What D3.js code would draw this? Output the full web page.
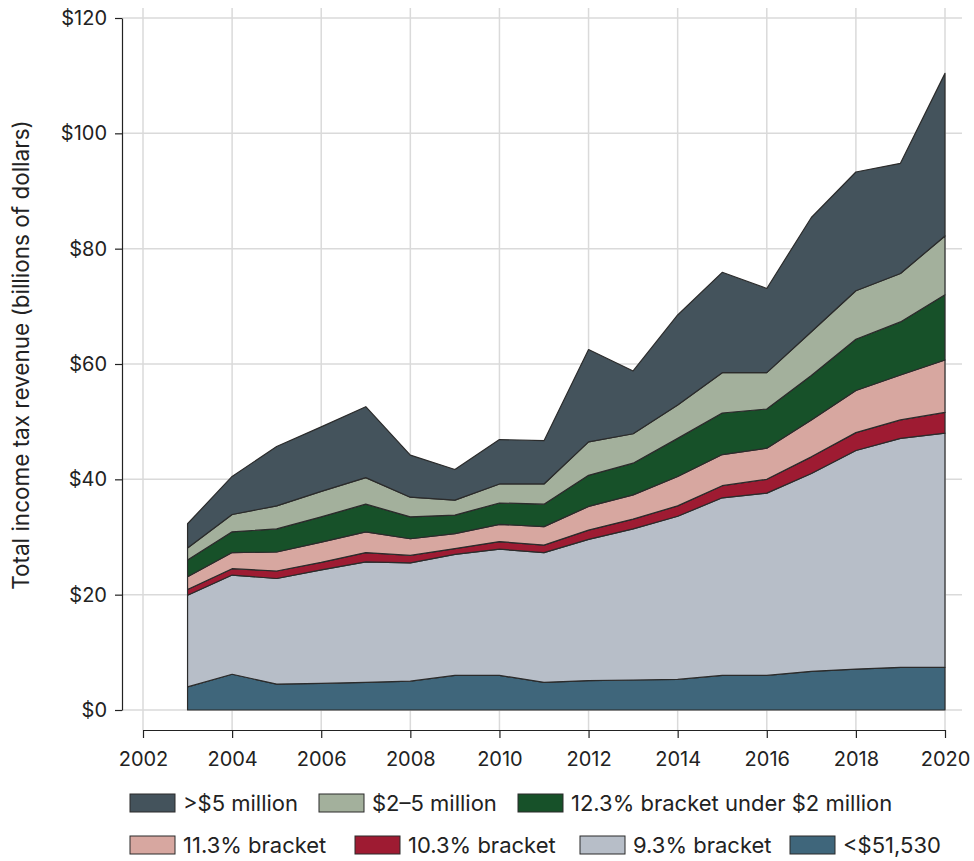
<!DOCTYPE html>
<html>
<head>
<meta charset="utf-8">
<script src="https://cdn.jsdelivr.net/npm/d3@7"></script>
<style>
  body { margin: 0; background: #fff; }
  #chart text { font-family: Inter, "Liberation Sans", Arial, sans-serif; fill: #222; }
</style>
</head>
<body>
<div id="chart"></div>
<script>
// data (billions of dollars)
var years = [2003,2004,2005,2006,2007,2008,2009,2010,2011,2012,2013,2014,2015,2016,2017,2018,2019,2020];

var under51k   = [4.0,6.2,4.5,4.6,4.8,5.0,6.0,6.0,4.8,5.1,5.2,5.3,6.0,6.0,6.7,7.1,7.4,7.4];
var bracket93  = [15.9,17.2,18.3,19.7,20.9,20.5,21.0,21.9,22.5,24.5,26.2,28.3,30.8,31.6,34.3,37.9,39.7,40.6];
var bracket103 = [1.0,1.1,1.3,1.3,1.6,1.3,1.0,1.3,1.3,1.6,1.7,1.8,2.1,2.4,2.9,3.1,3.2,3.6];
var bracket113 = [2.2,2.8,3.3,3.5,3.6,2.9,2.6,3.0,3.2,4.1,4.2,5.1,5.4,5.4,6.4,7.3,7.8,9.1];
var bracket123 = [2.9,3.6,4.0,4.4,4.8,3.8,3.2,3.7,3.9,5.4,5.5,6.6,7.2,6.8,7.7,8.9,9.2,11.3];
var mil2to5    = [2.1,3.0,4.0,4.4,4.6,3.4,2.6,3.3,3.5,5.8,5.1,5.8,7.0,6.3,7.6,8.4,8.4,10.2];
var over5mil   = [4.2,6.6,10.3,11.2,12.3,7.3,5.3,7.7,7.5,16.0,10.9,15.6,17.4,14.6,19.8,20.6,19.1,28.2];

var keys   = ["<$51,530","9.3% bracket","10.3% bracket","11.3% bracket","12.3% bracket under $2 million","$2\u20135 million",">$5 million"];
var series = [under51k, bracket93, bracket103, bracket113, bracket123, mil2to5, over5mil];
var colors = ["#3f667b","#b7bec8","#9e1b32","#d7a7a0","#175129","#a3b09c","#44535c"];

var xTicks = [2002,2004,2006,2008,2010,2012,2014,2016,2018,2020];
var yTicks = [0,20,40,60,80,100,120];

// legend rows (top-to-bottom order as in the picture)
var legendRow1 = [">$5 million","$2\u20135 million","12.3% bracket under $2 million"];
var legendRow2 = ["11.3% bracket","10.3% bracket","9.3% bracket","<$51,530"];

var width = 974, height = 861;

var svg = d3.select("#chart").append("svg")
    .attr("width", width)
    .attr("height", height);

var x = d3.scaleLinear().domain([2002, 2020]).range([143, 945]),
    y = d3.scaleLinear().domain([0, 120]).range([710, 18]),
    z = d3.scaleOrdinal().domain(keys).range(colors);

var data = years.map(function(yr, i) {
  var row = {year: yr};
  keys.forEach(function(k, j) { row[k] = series[j][i]; });
  return row;
});

// grid
svg.append("g")
  .selectAll("line.h")
  .data(yTicks)
  .enter().append("line")
    .attr("x1", 122).attr("x2", 962)
    .attr("y1", function(d) { return y(d); })
    .attr("y2", function(d) { return y(d); })
    .attr("stroke", "#dadada").attr("stroke-width", 1.5);

svg.append("g")
  .selectAll("line.v")
  .data(xTicks)
  .enter().append("line")
    .attr("y1", 8).attr("y2", 730)
    .attr("x1", function(d) { return x(d); })
    .attr("x2", function(d) { return x(d); })
    .attr("stroke", "#dadada").attr("stroke-width", 1.5);

// stacked areas
var stack = d3.stack().keys(keys);
var area = d3.area()
    .x(function(d) { return x(d.data.year); })
    .y0(function(d) { return y(d[0]); })
    .y1(function(d) { return y(d[1]); });

svg.append("g")
  .selectAll("path")
  .data(stack(data))
  .enter().append("path")
    .attr("d", area)
    .attr("fill", function(d) { return z(d.key); })
    .attr("stroke", "#2b2b2b")
    .attr("stroke-width", 1.2)
    .attr("stroke-linejoin", "round");

// axes
svg.append("g")
    .attr("class", "y-axis")
    .attr("transform", "translate(122,0)")
    .call(d3.axisLeft(y).tickValues(yTicks).tickSize(7).tickSizeOuter(0).tickPadding(8)
      .tickFormat(function(d) { return "$" + d; }));

svg.append("g")
    .attr("class", "x-axis")
    .attr("transform", "translate(0,730)")
    .call(d3.axisBottom(x).tickValues(xTicks).tickSize(8).tickSizeOuter(0).tickPadding(14)
      .tickFormat(d3.format("d")));

svg.selectAll(".y-axis text, .x-axis text")
    .style("font-family", "Inter, 'Liberation Sans', Arial, sans-serif")
    .style("font-size", "20px")
    .style("fill", "#222");
svg.selectAll(".domain, .tick line").attr("stroke", "#222").attr("stroke-width", 1.2);

// y title
svg.append("text")
    .attr("transform", "translate(29,355) rotate(-90)")
    .style("text-anchor", "middle")
    .style("font-size", "22.5px")
    .text("Total income tax revenue (billions of dollars)");

// legend
var row1X = [130, 319, 518],
    row2X = [130, 355, 580, 790];

function legendRow(labels, xs, top) {
  var g = svg.append("g").selectAll("g")
    .data(labels)
    .enter().append("g")
      .attr("transform", function(d, i) { return "translate(" + xs[i] + "," + top + ")"; });
  g.append("rect")
      .attr("width", 45).attr("height", 18)
      .attr("fill", function(d) { return z(d); })
      .attr("stroke", "#2b2b2b").attr("stroke-width", 1);
  g.append("text")
      .attr("x", 53).attr("y", 17)
      .style("font-size", "22px")
      .text(function(d) { return d; });
}
legendRow(legendRow1, row1X, 794);
legendRow(legendRow2, row2X, 836);
</script>
</body>
</html>
